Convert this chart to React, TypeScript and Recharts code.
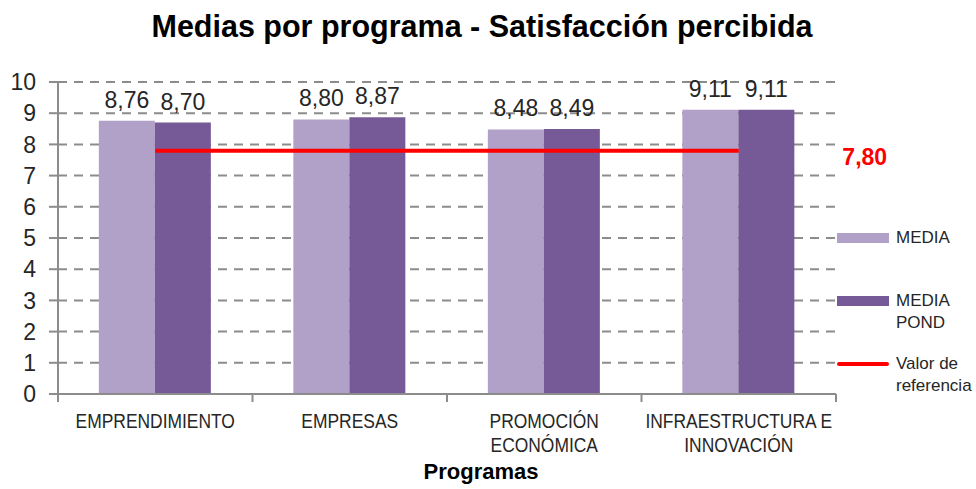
import {
  Bar,
  CartesianGrid,
  ComposedChart,
  LabelList,
  Legend,
  Line,
  XAxis,
  YAxis,
} from "recharts";

const programas = [
  "EMPRENDIMIENTO",
  "EMPRESAS",
  "PROMOCIÓN ECONÓMICA",
  "INFRAESTRUCTURA E INNOVACIÓN",
];
const programaLines = [
  ["EMPRENDIMIENTO"],
  ["EMPRESAS"],
  ["PROMOCIÓN", "ECONÓMICA"],
  ["INFRAESTRUCTURA E", "INNOVACIÓN"],
];
const media = [8.76, 8.8, 8.48, 9.11];
const mediaPond = [8.7, 8.87, 8.49, 9.11];
const referencia = [7.8, 7.8, 7.8, 7.8];
const yTicks = [0, 1, 2, 3, 4, 5, 6, 7, 8, 9, 10];

const FONT = "'Liberation Sans', Arial, sans-serif";
const LIGHT = "#b1a0c7";
const DARK = "#765a97";
const GRID = "#8c8c8c";
const TXT = "#262626";

const data = programas.map((p, i) => ({
  programa: p,
  media: media[i],
  pond: mediaPond[i],
  valorRef: referencia[i],
}));

const W = 976;
const H = 489;
const PLOT_L = 58;
const PLOT_R = 836;
const LEGEND_W = W - PLOT_R;
const BAND = (PLOT_R - PLOT_L) / programas.length;

const fmt = (v: number) => v.toFixed(2).replace(".", ",");

function CatTick(props: any) {
  const { x, y, index } = props;
  const lines = programaLines[index] || [];
  const left = x - BAND / 2;
  return (
    <g>
      <line x1={left} y1={y - 8} x2={left} y2={y} stroke={GRID} strokeWidth={2} />
      {index === programas.length - 1 && (
        <line x1={x + BAND / 2} y1={y - 8} x2={x + BAND / 2} y2={y} stroke={GRID} strokeWidth={2} />
      )}
      <g transform={`translate(${x},${y + 26}) scale(0.83,1)`}>
        <text x={0} y={0} textAnchor="middle" fontFamily={FONT} fontSize={21} fill={TXT}>
          {lines.map((l, k) => (
            <tspan key={k} x={0} dy={k === 0 ? 0 : 24}>
              {l}
            </tspan>
          ))}
        </text>
      </g>
    </g>
  );
}

function RefLabel(props: any) {
  const { x, y, index, value } = props;
  if (index !== programas.length - 1) return null;
  return (
    <text x={x + 126} y={y + 14} textAnchor="middle" fontFamily={FONT} fontWeight="bold" fontSize={23} fill="#ff0000">
      {fmt(Number(value))}
    </text>
  );
}

function LegendBox() {
  const items = [
    { name: ["MEDIA"], color: LIGHT, kind: "bar" },
    { name: ["MEDIA", "POND"], color: DARK, kind: "bar" },
    { name: ["Valor de", "referencia"], color: "#ff0000", kind: "line" },
  ];
  return (
    <div style={{ fontFamily: FONT, fontSize: 17, color: TXT, width: LEGEND_W }}>
      {items.map((it, i) => (
        <div key={i} style={{ display: "flex", alignItems: "flex-start", height: 63 }}>
          <span
            style={{
              display: "inline-block",
              flex: "none",
              width: 52,
              height: it.kind === "bar" ? 10 : 4,
              marginTop: it.kind === "bar" ? 6 : 9,
              background: it.color,
              borderRadius: it.kind === "line" ? 2 : 0,
            }}
          />
          <span style={{ marginLeft: 7, lineHeight: "22px", whiteSpace: "nowrap" }}>
            {it.name.map((n, k) => (
              <div key={k}>{n}</div>
            ))}
          </span>
        </div>
      ))}
    </div>
  );
}

export default function App() {
  return (
    <div style={{ position: "absolute", left: 0, top: 0, width: W, height: H, background: "#fff" }}>
      <div
        style={{
          position: "absolute",
          left: 0,
          top: 9,
          width: W - 12,
          textAlign: "center",
          fontFamily: FONT,
          fontWeight: "bold",
          fontSize: 30.5,
          color: "#000",
        }}
      >
        Medias por programa - Satisfacción percibida
      </div>
      <div
        style={{
          position: "absolute",
          left: 0,
          top: 459,
          width: W - 14,
          textAlign: "center",
          fontFamily: FONT,
          fontWeight: "bold",
          fontSize: 22,
          color: "#000",
        }}
      >
        Programas
      </div>
      <ComposedChart
        width={W}
        height={H}
        data={data}
        margin={{ top: 82, right: 0, bottom: 0, left: 0 }}
        barCategoryGap="21%"
        barGap={0}
      >
        <CartesianGrid horizontal vertical={false} stroke={GRID} strokeWidth={2} strokeDasharray="9 7" />
        <XAxis
          dataKey="programa"
          height={95}
          axisLine={{ stroke: GRID, strokeWidth: 2 }}
          tickLine={false}
          tick={<CatTick />}
          interval={0}
        />
        <YAxis
          domain={[0, 10]}
          ticks={yTicks}
          width={PLOT_L}
          interval={0}
          axisLine={{ stroke: GRID, strokeWidth: 2 }}
          tickLine={{ stroke: GRID, strokeWidth: 2 }}
          tickSize={9}
          tickMargin={13}
          tick={{ fontFamily: FONT, fontSize: 23, fill: TXT }}
        />
        <Legend
          layout="vertical"
          verticalAlign="top"
          align="right"
          width={LEGEND_W}
          wrapperStyle={{ position: "absolute", left: PLOT_R + 1, top: 227, width: LEGEND_W }}
          content={<LegendBox />}
        />
        <Bar dataKey="media" name="MEDIA" fill={LIGHT} isAnimationActive={false}>
          <LabelList dataKey="media" position="top" offset={13} formatter={(v: any) => fmt(Number(v))} fontFamily={FONT} fontSize={23} fill={TXT} />
        </Bar>
        <Bar dataKey="pond" name="MEDIA POND" fill={DARK} isAnimationActive={false}>
          <LabelList dataKey="pond" position="top" offset={13} formatter={(v: any) => fmt(Number(v))} fontFamily={FONT} fontSize={23} fill={TXT} />
        </Bar>
        <Line
          dataKey="valorRef"
          name="Valor de referencia"
          stroke="#ff0000"
          strokeWidth={4}
          dot={false}
          activeDot={false}
          isAnimationActive={false}
        >
          <LabelList dataKey="valorRef" content={<RefLabel />} />
        </Line>
      </ComposedChart>
    </div>
  );
}
